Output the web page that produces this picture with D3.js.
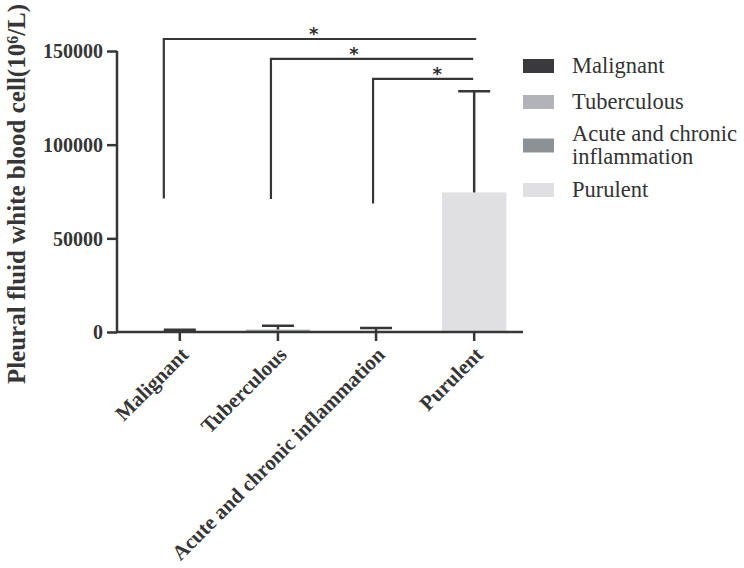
<!DOCTYPE html>
<html>
<head>
<meta charset="utf-8">
<script src="https://cdn.jsdelivr.net/npm/d3@7"></script>
<style>
	body { margin: 0; background: #fff; }
	#root { width: 744px; height: 568px; }
</style>
</head>
<body>
<div id="root"></div>
<script>
const categories = ["Malignant", "Tuberculous", "Acute and chronic inflammation", "Purulent"];
const legendLabels = [["Malignant"], ["Tuberculous"], ["Acute and chronic", "inflammation"], ["Purulent"]];
const means = [500, 1300, 500, 74500];
const sds = [700, 2000, 1600, 54000];
const yTicks = [0, 50000, 100000, 150000];

// significance brackets: from group, to group, bar level, drop to
const bracketFrom = [0, 1, 2];
const bracketTo = [3, 3, 3];
const bracketLevels = [156400, 145800, 135100];
const bracketDrops = [71300, 71000, 68600];
const bracketMarks = ["*", "*", "*"];

const colors = ["#3a3a3c", "#b1b3b9", "#8b9194", "#e0e0e2"];
const ink = "#363636";
const serif = "'Liberation Serif', 'Times New Roman', serif";

const makeChart = () => {
	const svg = d3.select("#root")
		.append("svg")
			.attr("width", 744)
			.attr("height", 568)
			.style("font-family", serif);

	const x = d3.scaleBand()
		.domain(categories)
		.range([131, 523])
		.paddingInner(0.345)
		.paddingOuter(0.17);

	const y = d3.scaleLinear()
		.domain([0, 150000])
		.range([332, 51]);

	drawBars(svg, x, y);
	drawAxes(svg, x, y);
	drawBrackets(svg, x, y);
	drawLegend(svg);
};

const drawBars = (svg, x, y) => {
	const cx = d => x(d) + x.bandwidth() / 2;

	svg.selectAll(".bar")
		.data(categories)
		.enter()
		.append("rect")
			.attr("class", "bar")
			.attr("x", d => x(d))
			.attr("width", x.bandwidth())
			.attr("y", (d, i) => y(means[i]))
			.attr("height", (d, i) => y(0) - y(means[i]))
			.attr("fill", (d, i) => colors[i]);

	const err = svg.selectAll(".err")
		.data(categories)
		.enter()
		.append("g")
			.attr("class", "err")
			.attr("stroke", ink)
			.attr("stroke-width", 2.5);

	err.append("line")
		.attr("x1", cx).attr("x2", cx)
		.attr("y1", (d, i) => y(means[i]))
		.attr("y2", (d, i) => y(means[i] + sds[i]));

	err.append("line")
		.attr("x1", d => cx(d) - 16).attr("x2", d => cx(d) + 16)
		.attr("y1", (d, i) => y(means[i] + sds[i]))
		.attr("y2", (d, i) => y(means[i] + sds[i]));
};

const drawAxes = (svg, x, y) => {
	const yAxis = svg.append("g")
		.attr("transform", "translate(117,0)")
		.call(d3.axisLeft(y).tickValues(yTicks).tickSize(10).tickPadding(4).tickFormat(d3.format("d")));

	yAxis.attr("font-family", null);
	yAxis.select(".domain").remove();
	yAxis.selectAll("line").attr("stroke", ink).attr("stroke-width", 2.5);
	yAxis.selectAll("text")
		.attr("fill", ink)
		.style("font-size", "20px")
		.style("font-weight", "bold")
		.attr("dy", "0.34em");

	const xAxis = svg.append("g")
		.attr("transform", "translate(0,332)")
		.call(d3.axisBottom(x).tickSize(9).tickSizeOuter(0));

	xAxis.attr("font-family", null);
	xAxis.select(".domain").remove();
	xAxis.selectAll("line").attr("stroke", ink).attr("stroke-width", 2.5);
	xAxis.selectAll("text")
		.attr("fill", ink)
		.style("font-size", "21px")
		.style("font-weight", "bold")
		.attr("text-anchor", "end")
		.attr("x", 0).attr("y", 0).attr("dy", 0)
		.attr("transform", "translate(10,24) rotate(-45)");

	// axis lines drawn by hand so they meet at the corner
	svg.append("path")
		.attr("d", `M117,${y(150000)}V${y(0)}H523`)
		.attr("fill", "none")
		.attr("stroke", ink)
		.attr("stroke-width", 2.5);

	const title = svg.append("text")
		.attr("transform", "translate(25,194) rotate(-90)")
		.attr("text-anchor", "middle")
		.attr("fill", ink)
		.style("font-size", "25px")
		.style("font-weight", "bold");
	title.append("tspan").text("Pleural fluid white blood cell(10");
	title.append("tspan").text("6").attr("dy", "-0.45em").style("font-size", "16px");
	title.append("tspan").text("/L)").attr("dy", "0.3em");
};

const drawBrackets = (svg, x, y) => {
	const cx = i => x(categories[i]) + x.bandwidth() / 2;
	const leftShift = [-16, -7, -3];
	const rightShift = [2, -1, -1];
	const starAt = [0.48, 0.41, 0.64];

	bracketFrom.forEach((from, i) => {
		const x0 = cx(from) + leftShift[i];
		const x1 = cx(bracketTo[i]) + rightShift[i];
		const yl = y(bracketLevels[i]);

		svg.append("path")
			.attr("d", `M${x0},${y(bracketDrops[i])}V${yl}H${x1}`)
			.attr("fill", "none")
			.attr("stroke", ink)
			.attr("stroke-width", 2.2);

		svg.append("text")
			.attr("x", x0 + (x1 - x0) * starAt[i])
			.attr("y", yl + 1)
			.attr("text-anchor", "middle")
			.attr("fill", "#2e2e2e")
			.style("font-family", "'DejaVu Sans', sans-serif")
			.style("font-size", "18px")
			.style("font-weight", "bold")
			.text(bracketMarks[i]);
	});
};

const drawLegend = (svg) => {
	const rows = [66, 102, 145.5, 190];

	const item = svg.selectAll(".legend")
		.data(legendLabels)
		.enter()
		.append("g")
			.attr("class", "legend")
			.attr("transform", (d, i) => `translate(523,${rows[i]})`);

	item.append("rect")
		.attr("x", 0).attr("y", -7)
		.attr("width", 31).attr("height", 14)
		.attr("fill", (d, i) => colors[i]);

	item.append("text")
		.attr("fill", "#333")
		.style("font-size", "22.5px")
		.each(function (d) {
			const t = d3.select(this);
			const top = -(d.length - 1) * 11.5;
			d.forEach((line, j) => {
				t.append("tspan")
					.attr("x", 49)
					.attr("y", top + j * 23)
					.attr("dy", "0.33em")
					.text(line);
			});
		});
};

makeChart();
</script>
</body>
</html>
